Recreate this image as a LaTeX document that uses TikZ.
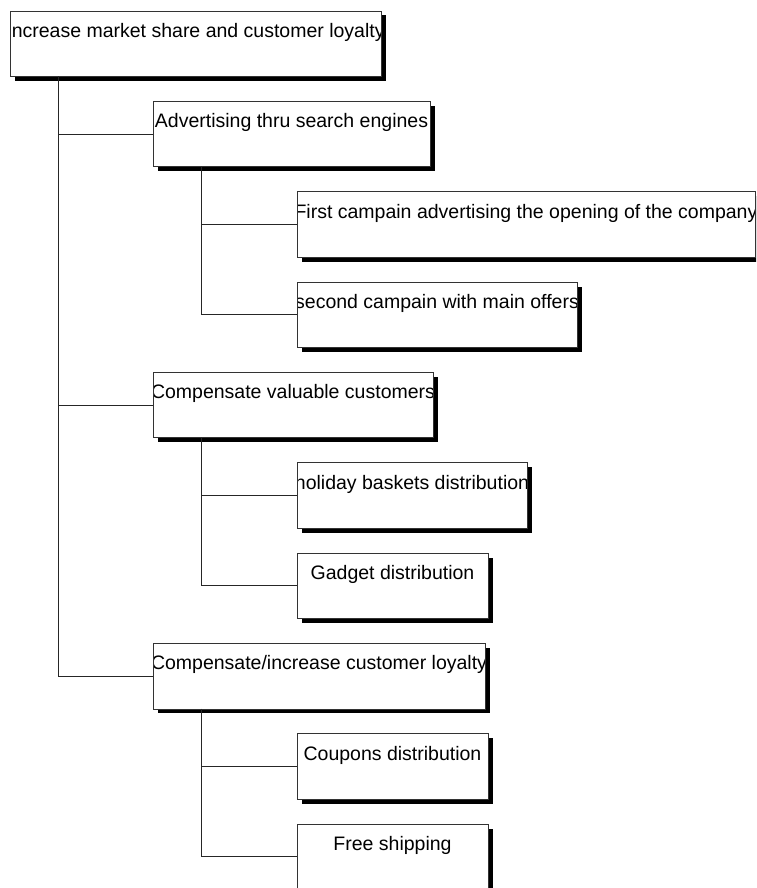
\documentclass[tikz,border=0pt]{standalone}
\usepackage{fontspec}
\setmainfont{Liberation Sans}
\usetikzlibrary{shadows}
\newcommand{\boxfont}{\fontsize{19.5}{22}\selectfont}
\tikzset{
  box/.style={rectangle, draw=black!80, line width=0.9pt, fill=white,
    anchor=north west, inner sep=0pt, outer sep=0pt, minimum height=65.5pt,
    drop shadow={opacity=1, fill=black, draw=none, shadow xshift=4.5pt, shadow yshift=-4.5pt},
    path picture={\node[draw=none, fill=none, anchor=base, inner sep=0pt, font=\boxfont]
      at ([yshift=-26.5pt]path picture bounding box.north) {#1};}},
  link/.style={draw=black!85, line width=0.9pt}
}
\begin{document}
\begin{tikzpicture}[x=1pt, y=-1pt]
\useasboundingbox (0,0) rectangle (756,888);
\clip (0,0) rectangle (756,888);
\node[box={Increase market share and customer loyalty}, minimum width=371pt] (root) at (10,11) {};
\node[box={Advertising thru search engines}, minimum width=277pt] (adv) at (153,101.35) {};
\node[box={First campain advertising the opening of the company}, minimum width=458pt] (first) at (297,191.7) {};
\node[box={second campain with main offers}, minimum width=280pt] (second) at (297,282) {};
\node[box={Compensate valuable customers}, minimum width=280pt] (val) at (153,372.4) {};
\node[box={holiday baskets distribution}, minimum width=230pt] (hol) at (297,462.75) {};
\node[box={Gadget distribution}, minimum width=191pt] (gad) at (297,553.1) {};
\node[box={Compensate/increase customer loyalty}, minimum width=332pt] (loy) at (153,643.45) {};
\node[box={Coupons distribution}, minimum width=191pt] (coup) at (297,733.8) {};
\node[box={Free shipping}, minimum width=191pt] (free) at (297,824.15) {};
\draw[link] ([xshift=48pt]root.south west) |- (adv.west);
\draw[link] ([xshift=48pt]root.south west) |- (val.west);
\draw[link] ([xshift=48pt]root.south west) |- (loy.west);
\draw[link] ([xshift=48pt]adv.south west) |- (first.west);
\draw[link] ([xshift=48pt]adv.south west) |- (second.west);
\draw[link] ([xshift=48pt]val.south west) |- (hol.west);
\draw[link] ([xshift=48pt]val.south west) |- (gad.west);
\draw[link] ([xshift=48pt]loy.south west) |- (coup.west);
\draw[link] ([xshift=48pt]loy.south west) |- (free.west);
\end{tikzpicture}
\end{document}
